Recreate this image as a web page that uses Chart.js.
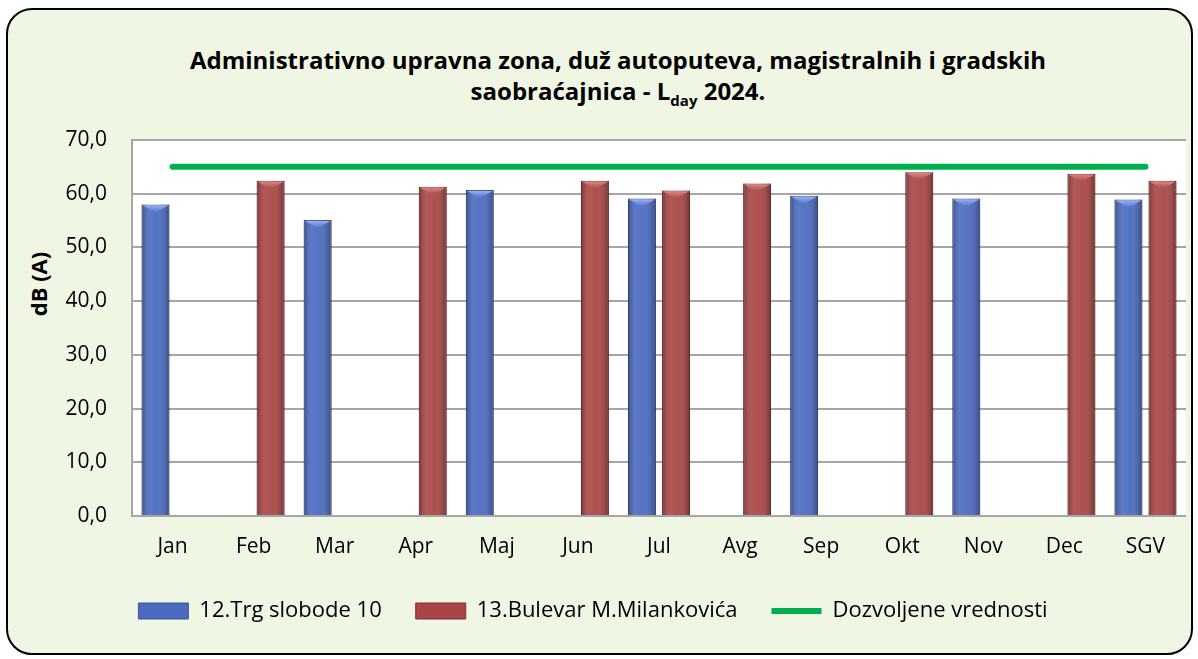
<!DOCTYPE html>
<html>
<head>
<meta charset="utf-8">
<script src="https://cdn.jsdelivr.net/npm/chart.js@4/dist/chart.umd.min.js"></script>
<style>
  html, body { margin: 0; padding: 0; background: #ffffff; }
  #wrap { position: relative; width: 1198px; height: 659px; overflow: hidden; }
  #box { position: absolute; left: 6px; top: 8px; width: 1183px; height: 643px;
         border: 2px solid #000; border-radius: 26px; background: #eff6e4; }
  .title { position: absolute; left: 0; width: 1236px; text-align: center;
           font: bold 24px "Open Sans", sans-serif; line-height: 24px; color: #000; white-space: nowrap; }
  .title sub { font-size: 15px; vertical-align: -6px; line-height: 0; }
  #ytitle { position: absolute; left: 38px; top: 284px; transform: translate(-50%, -50%) rotate(-90deg);
            font: bold 22px "Open Sans", sans-serif; color: #000; white-space: nowrap; }
  #chartBox { position: absolute; left: 0; top: 0; width: 1198px; height: 659px; }
</style>
</head>
<body>
<div id="wrap">
  <div id="box"></div>
  <div class="title" style="top:48px">Administrativno upravna zona, duž autoputeva, magistralnih i gradskih</div>
  <div class="title" style="top:79px">saobraćajnica - L<sub>day</sub> 2024.</div>
  <div id="ytitle">dB (A)</div>
  <div id="chartBox"><canvas id="myChart"></canvas></div>
</div>
<script>
// categories
var months = ["Jan", "Feb", "Mar", "Apr", "Maj", "Jun", "Jul", "Avg", "Sep", "Okt", "Nov", "Dec", "SGV"];
// series
var trgSlobode = [58.0, null, 55.1, null, 60.7, null, 59.1, null, 59.6, null, 59.1, null, 58.9];
var bulevarMilankovica = [null, 62.4, null, 61.3, null, 62.4, 60.6, 61.9, null, 64.0, null, 63.7, 62.4];
var dozvoljene = [65, 65, 65, 65, 65, 65, 65, 65, 65, 65, 65, 65, 65];
// y ticks
var yMin = 0, yMax = 70, yStep = 10;

var FONT = '"Open Sans", sans-serif';

// white plot area
var plotBg = {
  id: 'plotBg',
  beforeDraw: function (chart) {
    var a = chart.chartArea, ctx = chart.ctx;
    ctx.save();
    ctx.fillStyle = '#ffffff';
    ctx.fillRect(a.left, a.top, a.right - a.left, a.bottom - a.top);
    ctx.restore();
  }
};

// shading + top bevel on the bars (excel 3D look)
var bevel = {
  id: 'bevel',
  afterDatasetDraw: function (chart, args) {
    var meta = args.meta;
    if (meta.type !== 'bar') return;
    var ctx = chart.ctx;
    var raw = chart.data.datasets[meta.index].data;
    var topCol = meta.index == 0 ? ['#9fb6f0', '#5676cc'] : ['#e08c8c', '#ad4a4a'];
    meta.data.forEach(function (el, i) {
      if (raw[i] == null) return;
      var p = el.getProps(['x', 'y', 'base', 'width'], true);
      var left = p.x - p.width / 2, right = p.x + p.width / 2;
      ctx.save();
      var g = ctx.createLinearGradient(left, 0, right, 0);
      g.addColorStop(0, 'rgba(0,0,0,0.28)');
      g.addColorStop(0.3, 'rgba(255,255,255,0.10)');
      g.addColorStop(0.55, 'rgba(255,255,255,0.06)');
      g.addColorStop(1, 'rgba(0,0,0,0.30)');
      ctx.fillStyle = g;
      ctx.fillRect(left, p.y, p.width, p.base - p.y);
      var d = 8;
      var tg = ctx.createLinearGradient(0, p.y, 0, p.y + d);
      tg.addColorStop(0, topCol[0]);
      tg.addColorStop(1, topCol[1]);
      ctx.beginPath();
      ctx.moveTo(left + 1, p.y + 1);
      ctx.lineTo(right - 1, p.y + 1);
      ctx.lineTo(p.x, p.y + d);
      ctx.closePath();
      ctx.fillStyle = tg;
      ctx.fill();
      ctx.restore();
    });
  }
};

var ctx = document.getElementById("myChart").getContext("2d");
var myChart = new Chart(ctx, {
  data: {
    labels: months,
    datasets: [
      {
        type: 'bar',
        label: '12.Trg slobode 10',
        data: trgSlobode,
        backgroundColor: '#4a6ac0',
        borderColor: '#3a5499',
        borderWidth: 1,
        order: 2
      },
      {
        type: 'bar',
        label: '13.Bulevar M.Milankovića',
        data: bulevarMilankovica,
        backgroundColor: '#a94545',
        borderColor: '#7f2f2f',
        borderWidth: 1,
        order: 2
      },
      {
        type: 'line',
        label: 'Dozvoljene vrednosti',
        data: dozvoljene,
        borderColor: '#00b050',
        backgroundColor: '#00b050',
        borderWidth: 6,
        borderCapStyle: 'round',
        pointRadius: 0,
        fill: false,
        order: 1
      }
    ]
  },
  options: {
    responsive: true,
    maintainAspectRatio: false,
    animation: false,
    datasets: {
      bar: { categoryPercentage: 0.84, barPercentage: 0.82 }
    },
    layout: { padding: { top: 140, right: 12, bottom: 27, left: 0 } },
    plugins: {
      title: { display: false },
      tooltip: { enabled: false },
      legend: {
        position: 'bottom',
        labels: {
          usePointStyle: true,
          pointStyleWidth: 50,
          boxHeight: 16,
          padding: 34,
          color: '#000',
          font: { family: FONT, size: 22 },
          sort: function (a, b) { return a.datasetIndex - b.datasetIndex; },
          generateLabels: function (chart) {
            var items = Chart.defaults.plugins.legend.labels.generateLabels(chart);
            items.forEach(function (it) {
              var ds = chart.data.datasets[it.datasetIndex];
              it.pointStyle = ds.type === 'line' ? 'line' : 'rect';
              it.strokeStyle = ds.type === 'line' ? '#00b050' : ds.borderColor;
              it.lineWidth = ds.type === 'line' ? 6 : 1;
            });
            return items;
          }
        }
      }
    },
    scales: {
      x: {
        grid: { display: false },
        border: { display: false },
        ticks: { color: '#000', font: { family: FONT, size: 21 }, padding: 10, maxRotation: 0 },
        afterFit: function (s) { s.height = 50; }
      },
      y: {
        min: yMin,
        max: yMax,
        grid: { color: '#a6a6a6', lineWidth: 2, drawTicks: false },
        border: { display: true, color: '#a6a6a6', width: 2 },
        ticks: {
          stepSize: yStep,
          color: '#000',
          padding: 25,
          font: { family: FONT, size: 21 },
          callback: function (value) {
            return value.toFixed(1).replace('.', ',');
          }
        },
        afterFit: function (s) { s.width = 132; }
      }
    }
  },
  plugins: [plotBg, bevel]
});
</script>
</body>
</html>
